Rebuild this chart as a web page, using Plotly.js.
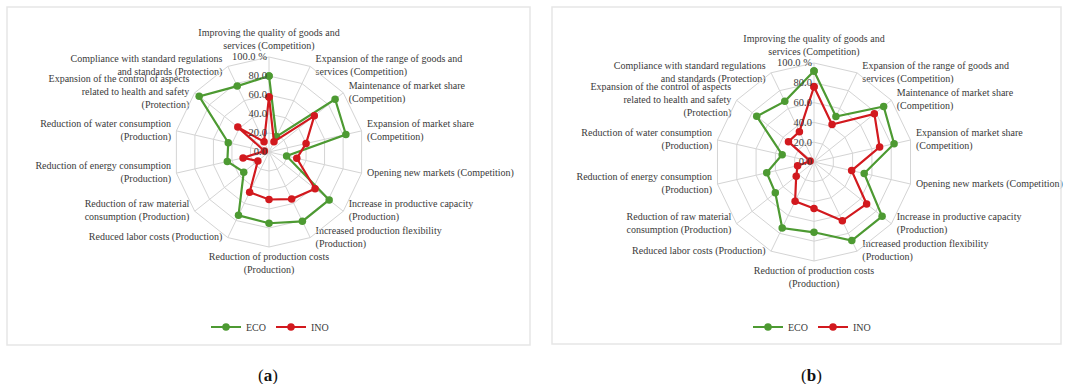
<!DOCTYPE html>
<html>
<head>
<meta charset="utf-8">
<script src="https://cdn.plot.ly/plotly-3.0.1.min.js"></script>
<style>
  html, body { margin: 0; padding: 0; background: #ffffff; }
  #chart { width: 1065px; height: 384px; }
</style>
</head>
<body>
<div id="chart"></div>
<script>
// Radar categories (clockwise from the top)
const categories = [
  "Improving the quality of goods and<br>services (Competition)",
  "Expansion of the range of goods and<br>services (Competition)",
  "Maintenance of market share<br>(Competition)",
  "Expansion of market share<br>(Competition)",
  "Opening new markets (Competition)",
  "Increase in productive capacity<br>(Production)",
  "Increased production flexibility<br>(Production)",
  "Reduction of production costs<br>(Production)",
  "Reduced labor costs (Production)",
  "Reduction of raw material<br>consumption (Production)",
  "Reduction of energy consumption<br>(Production)",
  "Reduction of water consumption<br>(Production)",
  "Expansion of the control of aspects<br>related to health and safety<br>(Protection)",
  "Compliance with standard regulations<br>and standards (Protection)"
];

// Panel (a) values, %
const ecoA = [80, 18, 89, 83, 19, 81, 81, 75, 74, 34, 45, 44, 94, 77];
const inoA = [58, 12, 61, 40, 30, 62, 55, 50, 47, 15, 28, 5, 42, 12];

// Panel (b) values, %
const ecoB = [92, 51, 90, 83, 52, 88, 88, 71, 74, 50, 49, 33, 74, 68];
const inoB = [76, 42, 78, 68, 39, 68, 66, 47, 44, 23, 17, 4, 33, 34];

// Radial tick labels
const radialTicks = [0, 20, 40, 60, 80, 100];
const radialTickText = ["0.0", "20.0", "40.0", "60.0", "80.0", "100.0 %"];

const GREEN = "#4d9a32";
const RED = "#d2191e";
const FONT = "Liberation Serif, DejaVu Serif, serif";
const TEXT = "#3a3a3a";
const GRID = "#d4d4d4";
const R_MAX = 100;

// close each loop by repeating the first category
function loop(arr) { return arr.concat([arr[0]]); }

function series(name, values, color, subplot, legend) {
  return {
    type: "scatterpolar",
    mode: "lines+markers",
    name: name,
    r: loop(values),
    theta: loop(categories),
    subplot: subplot,
    legend: legend,
    line: { color: color, width: 2.2 },
    marker: { color: color, size: 7.5, symbol: "circle" },
    hoverinfo: "r+name"
  };
}

// Category labels sit on the outer ring; the side of the ring decides
// which way each label extends from its spoke.
function labelPosition(i, n) {
  const deg = (i * 360) / n;              // clockwise from the top
  const s = Math.sin(deg * Math.PI / 180);
  if (Math.abs(s) < 0.1) {
    return Math.cos(deg * Math.PI / 180) > 0 ? "top center" : "bottom center";
  }
  return s > 0 ? "middle right" : "middle left";
}

function labels(subplot) {
  return {
    type: "scatterpolar",
    mode: "markers+text",
    r: categories.map(() => R_MAX),
    theta: categories,
    text: categories,
    textposition: categories.map((c, i) => labelPosition(i, categories.length)),
    textfont: { family: FONT, size: 10, color: TEXT },
    marker: { size: 7, color: "rgba(0,0,0,0)" },
    cliponaxis: false,
    subplot: subplot,
    showlegend: false,
    hoverinfo: "skip"
  };
}

const traces = [
  labels("polar"),
  labels("polar2"),
  series("ECO", ecoA, GREEN, "polar", "legend"),
  series("INO", inoA, RED, "polar", "legend"),
  series("ECO", ecoB, GREEN, "polar2", "legend2"),
  series("INO", inoB, RED, "polar2", "legend2")
];

function polarLayout(xd, yd) {
  return {
    domain: { x: xd, y: yd },
    bgcolor: "rgba(0,0,0,0)",
    gridshape: "linear",
    radialaxis: {
      range: [0, R_MAX],
      angle: 90,
      side: "counterclockwise",
      tickangle: 90,
      tickvals: radialTicks,
      ticktext: radialTickText,
      ticks: "",
      showline: false,
      gridcolor: GRID,
      gridwidth: 1,
      tickfont: { family: FONT, size: 10.5, color: TEXT }
    },
    angularaxis: {
      rotation: 90,
      direction: "clockwise",
      type: "category",
      categoryorder: "array",
      categoryarray: categories,
      ticks: "",
      showticklabels: false,
      showline: true,
      linecolor: GRID,
      linewidth: 1,
      gridcolor: GRID,
      gridwidth: 1
    }
  };
}

const W = 1065, H = 384;
const px = v => v / W;
const py = v => 1 - v / H;

const layout = {
  width: W,
  height: H,
  margin: { l: 0, r: 0, t: 0, b: 0 },
  paper_bgcolor: "#ffffff",
  plot_bgcolor: "#ffffff",
  font: { family: FONT, color: TEXT },
  polar: polarLayout([px(174), px(364)], [py(247), py(57)]),
  polar2: polarLayout([px(715), px(913)], [py(261), py(63)]),
  legend: {
    orientation: "h",
    x: px(270), y: py(327),
    xanchor: "center", yanchor: "middle",
    font: { family: FONT, size: 10, color: TEXT },
    itemwidth: 30,
    bgcolor: "rgba(0,0,0,0)"
  },
  legend2: {
    orientation: "h",
    x: px(812), y: py(327),
    xanchor: "center", yanchor: "middle",
    font: { family: FONT, size: 10, color: TEXT },
    itemwidth: 30,
    bgcolor: "rgba(0,0,0,0)"
  },
  shapes: [
    { type: "rect", xref: "paper", yref: "paper",
      x0: px(7), x1: px(530), y0: py(345), y1: py(7),
      line: { color: "#e6e6e6", width: 1.5 } },
    { type: "rect", xref: "paper", yref: "paper",
      x0: px(552), x1: px(1061), y0: py(344), y1: py(7),
      line: { color: "#e6e6e6", width: 1.5 } }
  ],
  annotations: [
    { text: "(<b>a</b>)", xref: "paper", yref: "paper",
      x: px(268), y: py(375), xanchor: "center", yanchor: "middle",
      showarrow: false, font: { family: FONT, size: 17, color: "#111111" } },
    { text: "(<b>b</b>)", xref: "paper", yref: "paper",
      x: px(812), y: py(375), xanchor: "center", yanchor: "middle",
      showarrow: false, font: { family: FONT, size: 17, color: "#111111" } }
  ]
};

Plotly.newPlot("chart", traces, layout, { displayModeBar: false, staticPlot: true });
</script>
</body>
</html>
